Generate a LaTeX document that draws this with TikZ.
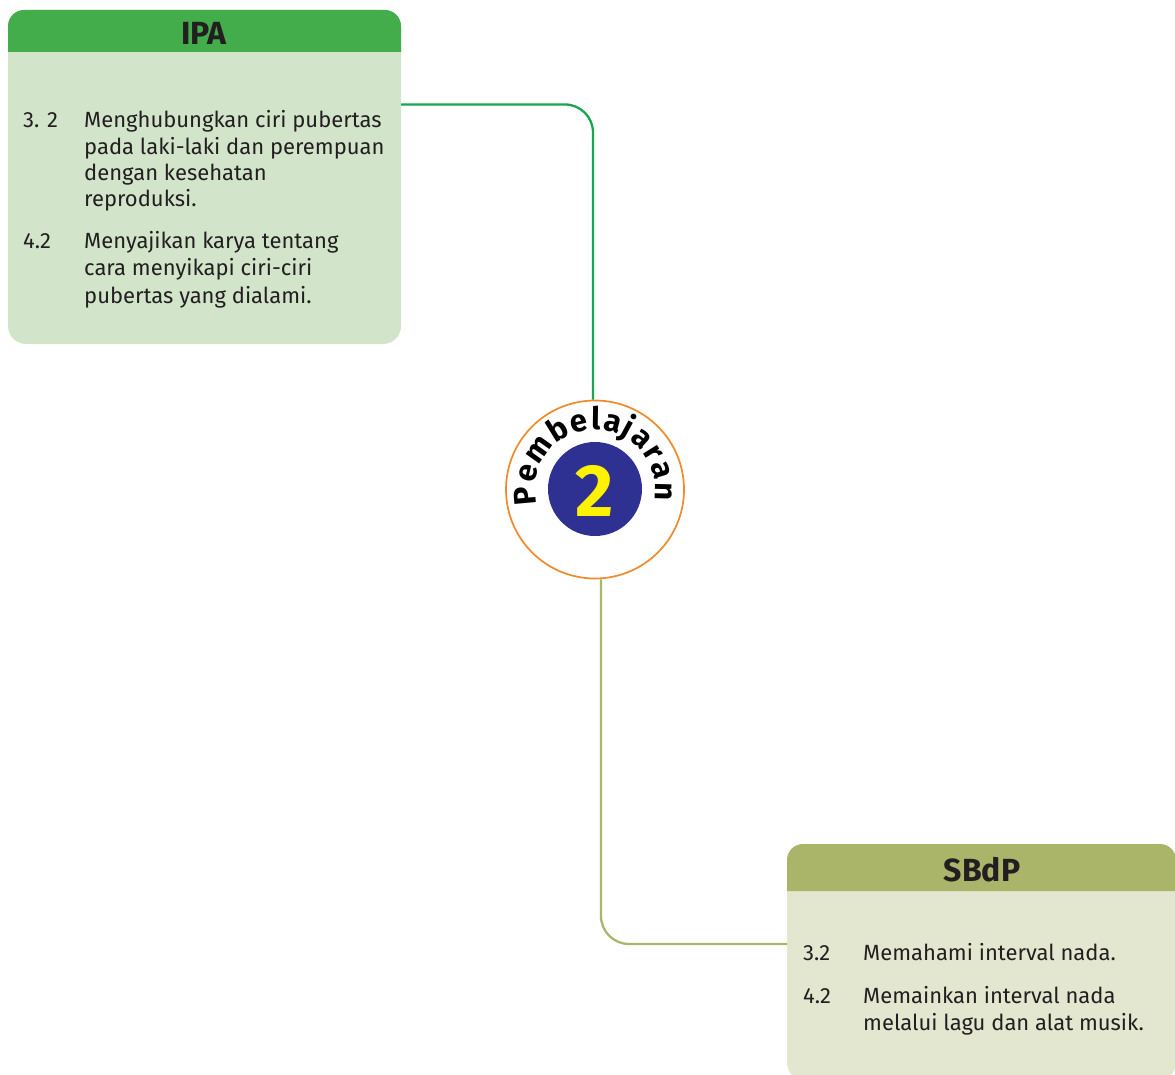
\documentclass[tikz,border=0pt]{standalone}
\usepackage{fontspec}
\usetikzlibrary{decorations.text}
\newfontfamily\bodyfont{Fira Sans}
\definecolor{ipahead}{HTML}{42AD4A}
\definecolor{ipabody}{HTML}{D2E5CA}
\definecolor{ipaline}{HTML}{1AA650}
\definecolor{sbhead}{HTML}{AAB56A}
\definecolor{sbbody}{HTML}{E3E7D0}
\definecolor{sbline}{HTML}{A9B76A}
\definecolor{ringorange}{HTML}{F08A2A}
\definecolor{discblue}{HTML}{2E3192}
\definecolor{numyellow}{HTML}{FFF200}
\definecolor{inkdark}{HTML}{231F20}
\newcommand{\pemfont}{\bodyfont\bfseries\fontsize{31}{31}\selectfont}
\tikzset{
  bodytext/.style={anchor=base west, inner sep=0pt, text=inkdark, font=\bodyfont\fontsize{22}{26}\selectfont},
  headtext/.style={anchor=base, inner sep=0pt, text=inkdark, font=\bodyfont\bfseries\fontsize{32}{36}\selectfont},
  conn/.style={line width=2.3pt, rounded corners=28pt}
}
\begin{document}
\begin{tikzpicture}[x=1pt,y=1pt]
\useasboundingbox (0,0) rectangle (1175,-1075);
\clip (0,0) rectangle (1175,-1075);
% IPA box
\fill[ipabody, rounded corners=18pt] (8,-10) rectangle (401,-344);
\fill[ipahead] (8,-52) {[rounded corners=16pt] -- (8,-10) -- (401,-10)} -- (401,-52) -- cycle;
\node[headtext] (ipatitle) at (204,-45) {IPA};
\node[bodytext] (ipa1n) at (23,-127.5) {3. 2};
\node[bodytext] (ipa1a) at (84,-127.5) {Menghubungkan ciri pubertas};
\node[bodytext] (ipa1b) at (84,-154.5) {pada laki-laki dan perempuan};
\node[bodytext] (ipa1c) at (84,-181) {dengan kesehatan};
\node[bodytext] (ipa1d) at (84,-207) {reproduksi.};
\node[bodytext] (ipa2n) at (23,-249) {4.2};
\node[bodytext] (ipa2a) at (84,-249) {Menyajikan karya tentang};
\node[bodytext] (ipa2b) at (84,-276) {cara menyikapi ciri-ciri};
\node[bodytext] (ipa2c) at (84,-303) {pubertas yang dialami.};
\coordinate (ipaport) at (401,-104.5);
% SBdP box
\fill[sbbody, rounded corners=20pt] (787,-844) rectangle (1176,-1082);
\fill[sbhead] (787,-891) {[rounded corners=16pt] -- (787,-844) -- (1176,-844)} -- (1176,-891) -- cycle;
\node[headtext] (sbtitle) at (982,-881) {SBdP};
\node[bodytext] (sb1n) at (803,-960) {3.2};
\node[bodytext] (sb1a) at (863,-960) {Memahami interval nada.};
\node[bodytext] (sb2n) at (803,-1003) {4.2};
\node[bodytext] (sb2a) at (863,-1003) {Memainkan interval nada};
\node[bodytext] (sb2b) at (863,-1030) {melalui lagu dan alat musik.};
\coordinate (sbport) at (787,-944);
% centre badge
\node[circle, draw=ringorange, line width=1.7pt, fill=white, minimum size=178pt, inner sep=0pt] (circ) at (595,-489.5) {};
\draw[conn, draw=ipaline] (ipaport) -| ([xshift=-2pt]circ.north);
\draw[conn, draw=sbline] ([xshift=6pt]circ.south) |- (sbport);
\node[circle, fill=discblue, minimum size=94pt, inner sep=0pt] (disc) at (595,-489) {};
\node[inner sep=0pt, text=numyellow, font=\bodyfont\bfseries\fontsize{74}{74}\selectfont] (num) at (595,-491) {2};
\path[font=\pemfont, decorate, decoration={text along path, text={|\pemfont|Pembelajaran}, text align=fit to path}]
  (circ.center) ++(194:60) arc[start angle=194, end angle=-10, radius=60];
\end{tikzpicture}
\end{document}
